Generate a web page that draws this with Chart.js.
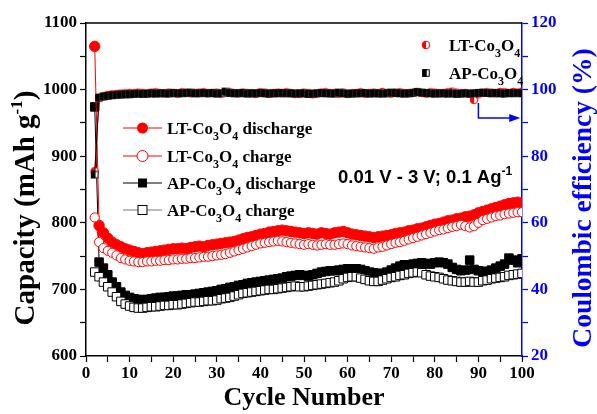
<!DOCTYPE html>
<html>
<head>
<meta charset="utf-8">
<script src="https://cdn.jsdelivr.net/npm/chart.js@4.4.1/dist/chart.umd.min.js"></script>
<style>
  html, body { margin: 0; padding: 0; background: #fff; }
</style>
</head>
<body>
<canvas id="chart" width="597" height="414"></canvas>
<script>
// Cycle numbers (first plotted cycle is 2)
const firstCycle = 2;
const lastCycle = 100;

// Capacity (mAh/g)
const ltDischarge = [
  1065, 796, 785, 777, 771, 767, 764, 761, 759, 757,
  755, 754, 755, 756, 757, 758, 759, 760, 761, 761,
  762, 761, 763, 764, 765, 764, 766, 767, 768, 769,
  770, 771, 772, 774, 776, 778, 779, 781, 783, 784,
  786, 787, 788, 789, 788, 787, 786, 785, 784, 785,
  784, 783, 785, 784, 783, 785, 786, 787, 785, 783,
  782, 781, 780, 779, 778, 779, 780, 781, 782, 784,
  785, 786, 788, 789, 791, 792, 794, 796, 798, 799,
  801, 803, 804, 806, 807, 809, 810, 812, 815, 817,
  819, 821, 823, 825, 827, 829, 830, 831, 830
];
const ltCharge = [
  808, 771, 762, 758, 755, 751, 747, 745, 743, 742,
  741, 741, 742, 742, 743, 743, 744, 744, 745, 745,
  746, 746, 747, 747, 748, 749, 749, 750, 751, 752,
  753, 755, 757, 759, 761, 763, 765, 767, 769, 770,
  771, 772, 773, 772, 771, 770, 769, 768, 767, 768,
  767, 766, 767, 768, 767, 767, 768, 769, 768, 766,
  765, 764, 763, 762, 761, 763, 764, 766, 768, 770,
  771, 773, 775, 777, 779, 781, 783, 785, 787, 789,
  790, 792, 794, 795, 797, 795, 793, 795, 800, 804,
  806, 808, 810, 811, 813, 814, 815, 816, 816
];
const apDischarge = [
  974, 741, 732, 722, 711, 704, 696, 691, 688, 686,
  685, 684, 685, 686, 687, 688, 688, 689, 690, 690,
  691, 692, 692, 693, 694, 695, 696, 697, 698, 700,
  701, 703, 704, 706, 707, 709, 710, 711, 712, 713,
  714, 715, 716, 717, 719, 720, 721, 722, 721, 720,
  722, 724, 726, 727, 728, 728, 729, 730, 731, 730,
  731, 730, 728, 726, 725, 724, 724, 726, 729, 732,
  735, 737, 736, 738, 739, 740, 739, 738, 740, 741,
  740, 738, 733, 730, 728, 729, 744, 730, 728, 727,
  727, 729, 732, 735, 738, 747, 744, 740, 746
];
const apCharge = [
  726, 719, 711, 704, 696, 689, 682, 678, 675, 673,
  672, 672, 673, 674, 674, 675, 676, 676, 677, 677,
  678, 679, 680, 681, 681, 682, 683, 683, 684, 686,
  687, 688, 690, 692, 694, 695, 696, 697, 698, 699,
  700, 700, 701, 702, 703, 704, 705, 704, 704, 705,
  706, 707, 708, 709, 710, 711, 713, 716, 718, 719,
  719, 717, 715, 713, 712, 712, 714, 716, 718, 719,
  721, 722, 724, 725, 726, 725, 722, 720, 719, 718,
  716, 714, 713, 712, 711, 711, 712, 711, 711, 713,
  714, 716, 717, 718, 719, 721, 722, 723, 724
];

// Coulombic efficiency (%)
const ltEfficiency = [
  75.5, 97.4, 98.1, 98.4, 98.6, 98.7, 98.8, 98.9, 99.0, 98.9,
  99.1, 99.0, 98.8, 99.1, 99.2, 99.0, 98.9, 99.1, 99.0, 98.8,
  99.2, 99.1, 98.9, 99.0, 99.1, 99.2, 98.9, 99.0, 99.1, 98.8,
  99.0, 99.2, 99.0, 98.9, 99.1, 99.0, 98.9, 98.7, 99.2, 99.1,
  98.8, 99.0, 99.1, 98.9, 99.2, 99.0, 98.8, 98.7, 99.1, 99.0,
  98.6, 98.8, 99.1, 99.2, 98.9, 99.0, 98.8, 99.1, 98.7, 98.9,
  99.0, 99.2, 98.8, 99.0, 99.1, 98.9, 99.3, 99.0, 98.8, 99.1,
  99.2, 99.0, 98.9, 99.1, 99.3, 99.0, 98.8, 99.2, 99.1, 98.9,
  99.0, 99.2, 99.4, 99.1, 98.9, 99.0, 98.7, 96.9, 98.6, 99.0,
  99.2, 99.1, 98.9, 99.3, 99.2, 99.0, 99.3, 99.1, 99.4
];
const apEfficiency = [
  74.5, 97.6, 97.9, 98.1, 98.3, 98.4, 98.5, 98.6, 98.6, 98.7,
  98.8, 98.7, 98.8, 98.9, 98.8, 98.9, 98.9, 98.8, 99.0, 98.9,
  98.9, 99.0, 99.1, 98.9, 98.9, 99.0, 98.9, 99.0, 98.8, 98.9,
  99.4, 99.0, 98.9, 98.9, 99.0, 98.8, 98.9, 98.9, 99.0, 98.9,
  98.8, 98.9, 98.9, 99.0, 98.9, 98.9, 98.8, 98.9, 98.9, 98.7,
  98.8, 98.9, 99.0, 98.9, 98.9, 98.8, 99.1, 98.9, 98.8, 98.8,
  98.9, 98.9, 99.0, 98.8, 98.9, 98.9, 98.8, 98.9, 99.1, 99.0,
  98.9, 98.8, 98.9, 99.0, 99.3, 99.1, 99.0, 98.9, 98.8, 98.9,
  98.9, 98.8, 98.9, 98.7, 98.8, 98.9, 98.8, 98.9, 99.0, 99.1,
  99.0, 98.9, 99.0, 98.9, 98.8, 99.0, 98.9, 99.0, 98.9
];

// Axis ticks
const xTicks = [0, 10, 20, 30, 40, 50, 60, 70, 80, 90, 100];
const capTicks = [600, 700, 800, 900, 1000, 1100];
const ceTicks = [20, 40, 60, 80, 100, 120];

const RED = '#ff0000';
const BLUE = '#0000ff';
const SERIF = '"Liberation Serif", "Times New Roman", serif';
const SANS = '"Liberation Sans", Arial, sans-serif';

function toPoints(values) {
  return values.map((v, i) => ({ x: firstCycle + i, y: v }));
}

// Half-filled markers for the efficiency series
function halfCircle(r, color) {
  const c = document.createElement('canvas');
  const s = Math.ceil(2 * r + 2);
  c.width = s; c.height = s;
  const g = c.getContext('2d');
  g.fillStyle = '#fff';
  g.beginPath(); g.arc(s / 2, s / 2, r, 0, Math.PI * 2); g.fill();
  g.fillStyle = color;
  g.beginPath(); g.arc(s / 2, s / 2, r, Math.PI / 2, Math.PI * 1.5); g.closePath(); g.fill();
  g.strokeStyle = color; g.lineWidth = 1;
  g.beginPath(); g.arc(s / 2, s / 2, r, 0, Math.PI * 2); g.stroke();
  return c;
}
function halfSquare(side, color) {
  const c = document.createElement('canvas');
  const s = Math.ceil(side + 2);
  c.width = s; c.height = s;
  const g = c.getContext('2d');
  const o = (s - side) / 2;
  g.fillStyle = '#fff'; g.fillRect(o, o, side, side);
  g.fillStyle = color; g.fillRect(o, o, side * 0.6, side);
  g.strokeStyle = color; g.lineWidth = 1; g.strokeRect(o + 0.5, o + 0.5, side - 1, side - 1);
  return c;
}
const ltCeMarker = halfCircle(3.8, RED);
const apCeMarker = halfSquare(7.5, '#000');

// Text with sub/superscripts: parts = [[text, 'sub'|'sup'|undefined], ...]
function drawRich(ctx, parts, x, y, o) {
  const big = `bold ${o.size}px ${o.family}`;
  const small = `bold ${o.small}px ${o.family}`;
  let w = 0;
  parts.forEach(p => { ctx.font = p[1] ? small : big; w += ctx.measureText(p[0]).width; });
  let cx = o.align === 'center' ? x - w / 2 : x;
  ctx.fillStyle = o.color;
  ctx.textAlign = 'left';
  ctx.textBaseline = 'alphabetic';
  parts.forEach(p => {
    ctx.font = p[1] ? small : big;
    const dy = p[1] === 'sub' ? o.subDy : (p[1] === 'sup' ? -o.supDy : 0);
    ctx.fillText(p[0], cx, y + dy);
    cx += ctx.measureText(p[0]).width;
  });
}

function coName(prefix, suffix) {
  return [[prefix + '-Co'], ['3', 'sub'], ['O'], ['4', 'sub'], [suffix || '']];
}

const overlay = {
  id: 'overlay',
  afterDraw(chart) {
    const ctx = chart.ctx;
    const { left, right, top, bottom } = chart.chartArea;
    const xs = chart.scales.x;
    const yc = chart.scales.y1;
    ctx.save();

    // top frame
    ctx.strokeStyle = '#000';
    ctx.lineWidth = 1.5;
    ctx.beginPath(); ctx.moveTo(left, top); ctx.lineTo(right, top); ctx.stroke();

    const txt = { size: 17, small: 12, family: SERIF, color: '#000', subDy: 6, supDy: 8 };

    // legend for capacity series
    const rows = [
      { y: 128, line: RED, draw: (x, y) => { ctx.fillStyle = RED; ctx.beginPath(); ctx.arc(x, y, 5.5, 0, Math.PI * 2); ctx.fill(); }, label: coName('LT', ' discharge') },
      { y: 156, line: RED, draw: (x, y) => { ctx.fillStyle = '#fff'; ctx.strokeStyle = RED; ctx.lineWidth = 1; ctx.beginPath(); ctx.arc(x, y, 5.5, 0, Math.PI * 2); ctx.fill(); ctx.stroke(); }, label: coName('LT', ' charge') },
      { y: 183, line: '#000', draw: (x, y) => { ctx.fillStyle = '#000'; ctx.fillRect(x - 4.5, y - 4.5, 9, 9); }, label: coName('AP', ' discharge') },
      { y: 210, line: '#777', draw: (x, y) => { ctx.fillStyle = '#fff'; ctx.strokeStyle = '#000'; ctx.lineWidth = 1; ctx.fillRect(x - 4.5, y - 4.5, 9, 9); ctx.strokeRect(x - 4.5, y - 4.5, 9, 9); }, label: coName('AP', ' charge') }
    ];
    rows.forEach(r => {
      ctx.strokeStyle = r.line; ctx.lineWidth = 1;
      ctx.beginPath(); ctx.moveTo(123, r.y); ctx.lineTo(162, r.y); ctx.stroke();
      r.draw(142.5, r.y);
      drawRich(ctx, r.label, 167, r.y + 6, txt);
    });

    // legend for efficiency series
    ctx.drawImage(ltCeMarker, 426 - ltCeMarker.width / 2, 45 - ltCeMarker.height / 2);
    drawRich(ctx, coName('LT'), 449, 51, txt);
    ctx.drawImage(apCeMarker, 426 - apCeMarker.width / 2, 73 - apCeMarker.height / 2);
    drawRich(ctx, coName('AP'), 449, 79, txt);

    // test conditions
    drawRich(ctx, [['0.01 V - 3 V; 0.1 Ag'], ['-1', 'sup']], 338, 183,
      { size: 18.5, small: 12, family: SANS, color: '#000', subDy: 0, supDy: 8 });

    // arrow pointing to the efficiency axis
    const ax = xs.getPixelForValue(90);
    const ay0 = yc.getPixelForValue(96);
    const ay1 = yc.getPixelForValue(91.5);
    const ax1 = xs.getPixelForValue(99.6);
    ctx.strokeStyle = BLUE; ctx.fillStyle = BLUE; ctx.lineWidth = 1.5;
    ctx.beginPath(); ctx.moveTo(ax, ay0); ctx.lineTo(ax, ay1); ctx.lineTo(ax1 - 9, ay1); ctx.stroke();
    ctx.beginPath(); ctx.moveTo(ax1, ay1); ctx.lineTo(ax1 - 11, ay1 - 4); ctx.lineTo(ax1 - 11, ay1 + 4); ctx.closePath(); ctx.fill();

    // axis titles
    drawRich(ctx, [['Cycle Number']], (left + right) / 2, 405,
      { size: 26, small: 16, family: SERIF, color: '#000', align: 'center' });

    ctx.save();
    ctx.translate(34, 208);
    ctx.rotate(-Math.PI / 2);
    drawRich(ctx, [['Capacity (mAh g'], ['-1', 'sup'], [')']], 0, 0,
      { size: 29, small: 17, family: SERIF, color: '#000', align: 'center', supDy: 12 });
    ctx.restore();

    ctx.save();
    ctx.translate(591, 198);
    ctx.rotate(-Math.PI / 2);
    drawRich(ctx, [['Coulombic efficiency (%)']], 0, 0,
      { size: 27.5, small: 16, family: SERIF, color: BLUE, align: 'center' });
    ctx.restore();

    ctx.restore();
  }
};

const tickFont = { family: SERIF, size: 17, weight: 'bold' };

new Chart(document.getElementById('chart'), {
  type: 'line',
  data: {
    datasets: [
      {
        label: 'AP-Co3O4 efficiency', yAxisID: 'y1', order: 1,
        data: toPoints(apEfficiency),
        borderColor: '#000', borderWidth: 1,
        pointStyle: apCeMarker
      },
      {
        label: 'LT-Co3O4 efficiency', yAxisID: 'y1', order: 2,
        data: toPoints(ltEfficiency),
        borderColor: RED, borderWidth: 1,
        pointStyle: ltCeMarker
      },
      {
        label: 'LT-Co3O4 charge', yAxisID: 'y', order: 3,
        data: toPoints(ltCharge),
        borderColor: RED, borderWidth: 1,
        pointStyle: 'circle', pointRadius: 4.6,
        pointBackgroundColor: '#fff', pointBorderColor: RED, pointBorderWidth: 1
      },
      {
        label: 'LT-Co3O4 discharge', yAxisID: 'y', order: 4,
        data: toPoints(ltDischarge),
        borderColor: RED, borderWidth: 1,
        pointStyle: 'circle', pointRadius: 5.2,
        pointBackgroundColor: RED, pointBorderColor: RED, pointBorderWidth: 1
      },
      {
        label: 'AP-Co3O4 charge', yAxisID: 'y', order: 5,
        data: toPoints(apCharge),
        borderColor: '#555', borderWidth: 1,
        pointStyle: 'rect', pointRadius: 6,
        pointBackgroundColor: '#fff', pointBorderColor: '#000', pointBorderWidth: 1
      },
      {
        label: 'AP-Co3O4 discharge', yAxisID: 'y', order: 6,
        data: toPoints(apDischarge),
        borderColor: '#000', borderWidth: 1,
        pointStyle: 'rect', pointRadius: 6,
        pointBackgroundColor: '#000', pointBorderColor: '#000', pointBorderWidth: 1
      }
    ]
  },
  options: {
    responsive: false,
    animation: false,
    layout: { padding: { top: 23, left: 0, right: 0, bottom: 0 } },
    elements: { line: { tension: 0 }, point: { hoverRadius: 5 } },
    plugins: { legend: { display: false }, tooltip: { enabled: false } },
    scales: {
      x: {
        type: 'linear', min: 0, max: lastCycle,
        afterFit: s => { s.height = 58; },
        border: { display: true, color: '#000', width: 1.5 },
        grid: { drawOnChartArea: false, drawTicks: true, tickLength: 6, tickColor: '#000', tickWidth: 1.2 },
        ticks: {
          stepSize: 5, autoSkip: false, maxRotation: 0, padding: 1,
          color: '#000', font: tickFont,
          callback: v => (xTicks.includes(v) ? String(v) : '')
        }
      },
      y: {
        position: 'left', min: 600, max: 1100,
        afterFit: s => { s.width = 86; },
        border: { display: true, color: '#000', width: 1.5 },
        grid: { drawOnChartArea: false, drawTicks: true, tickLength: 6, tickColor: '#000', tickWidth: 1.2 },
        ticks: {
          stepSize: 50, autoSkip: false, padding: 3,
          color: '#000', font: tickFont,
          callback: v => (capTicks.includes(v) ? String(v) : '')
        }
      },
      y1: {
        position: 'right', min: 20, max: 120,
        afterFit: s => { s.width = 75; },
        border: { display: true, color: BLUE, width: 1.5 },
        grid: { drawOnChartArea: false, drawTicks: true, tickLength: 6, tickColor: BLUE, tickWidth: 1.2 },
        ticks: {
          stepSize: 10, autoSkip: false, padding: 3,
          color: BLUE, font: tickFont,
          callback: v => (ceTicks.includes(v) ? String(v) : '')
        }
      }
    }
  },
  plugins: [overlay]
});
</script>
</body>
</html>
